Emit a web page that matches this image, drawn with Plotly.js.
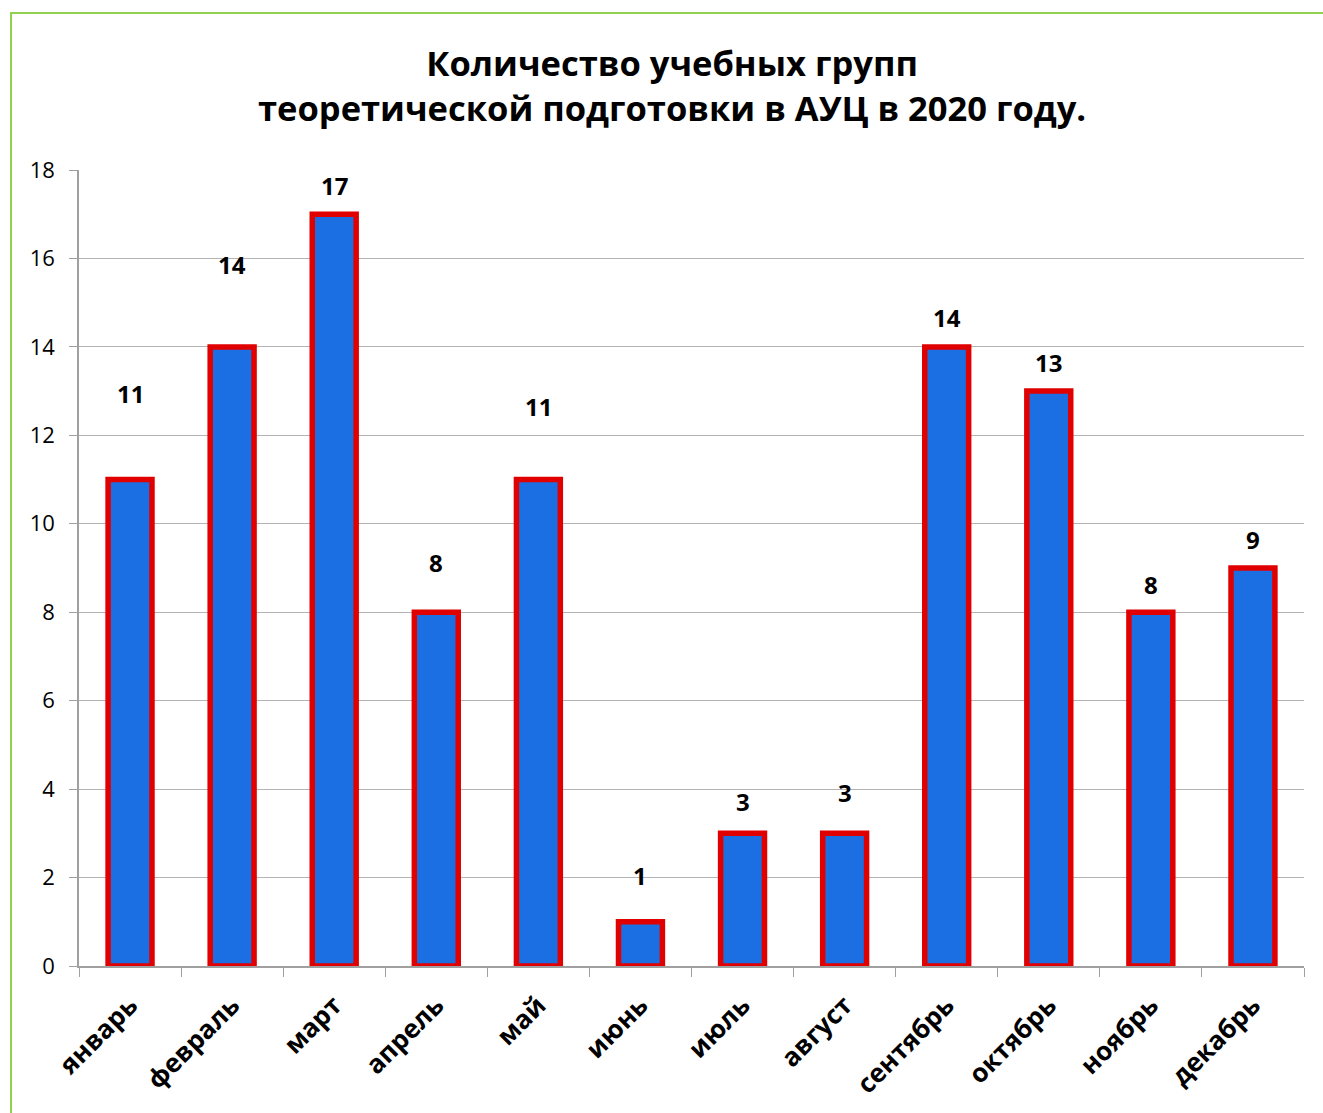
<!DOCTYPE html>
<html>
<head>
<meta charset="utf-8">
<script src="https://cdn.plot.ly/plotly-3.0.1.min.js"></script>
<style>
html,body{margin:0;padding:0;background:#fff;}
#wrap{position:relative;width:1323px;height:1113px;}
#frame{position:absolute;left:10px;top:12px;width:1330px;height:1120px;border-top:2px solid #92d050;border-left:2px solid #92d050;pointer-events:none;}
#chart{position:absolute;left:0;top:0;width:1323px;height:1113px;}
</style>
</head>
<body>
<div id="wrap"><div id="chart"></div><div id="frame"></div></div>
<script>
const months = ['январь','февраль','март','апрель','май','июнь','июль','август','сентябрь','октябрь','ноябрь','декабрь'];
const groups = [11, 14, 17, 8, 11, 1, 3, 3, 14, 13, 8, 9];
const yTicks = [0, 2, 4, 6, 8, 10, 12, 14, 16, 18];
// per-label vertical lift in pixels (label layout tweak, as in the original)
const labelLift = [86, 82, 29, 50, 73, 46, 32, 41, 29, 29, 28, 29];

const bars = {
  type: 'bar',
  x: months,
  y: groups,
  width: 0.43,
  marker: {color: '#1c6fe3', line: {color: '#e00000', width: 5.5}},
  hoverinfo: 'x+y'
};

const annotations = months.map((m, i) => ({
  x: m, y: groups[i], xref: 'x', yref: 'y',
  text: String(groups[i]), showarrow: false,
  yanchor: 'middle', yshift: labelLift[i],
  font: {family: 'Open Sans, Carlito, sans-serif', size: 24, color: '#000', weight: 700}
}));

const layout = {
  width: 1323, height: 1113,
  margin: {l: 79, r: 19, t: 170, b: 147},
  paper_bgcolor: 'rgba(0,0,0,0)', plot_bgcolor: 'rgba(0,0,0,0)',
  showlegend: false,
  title: {
    text: '<b>Количество учебных групп<br>теоретической подготовки в АУЦ в 2020 году.</b>',
    x: 0.508, xanchor: 'center', y: 0.9315, yanchor: 'middle',
    font: {family: 'Open Sans, Carlito, sans-serif', size: 34.5, color: '#000', lineposition: 'none'}
  },
  xaxis: {
    type: 'category', tickson: 'boundaries',
    ticks: 'outside', ticklen: 9, tickcolor: '#a0a0a0',
    showline: true, linecolor: '#a0a0a0', linewidth: 1.5,
    showgrid: false, tickangle: -45, ticklabelstandoff: 12,
    tickfont: {family: 'Open Sans, Carlito, sans-serif', size: 26, color: '#000', weight: 700},
    range: [-0.5, 11.5]
  },
  yaxis: {
    range: [0, 18], tickvals: yTicks,
    ticks: 'outside', ticklen: 8, tickcolor: '#a0a0a0',
    showline: true, linecolor: '#a0a0a0', linewidth: 1.5,
    showgrid: true, gridcolor: '#b4b4b4', gridwidth: 1.3,
    zeroline: false, ticklabelstandoff: 10,
    tickfont: {family: 'Open Sans, Carlito, sans-serif', size: 22, color: '#000'}
  },
  annotations: annotations
};

Plotly.newPlot('chart', [bars], layout, {displayModeBar: false});
</script>
</body>
</html>
